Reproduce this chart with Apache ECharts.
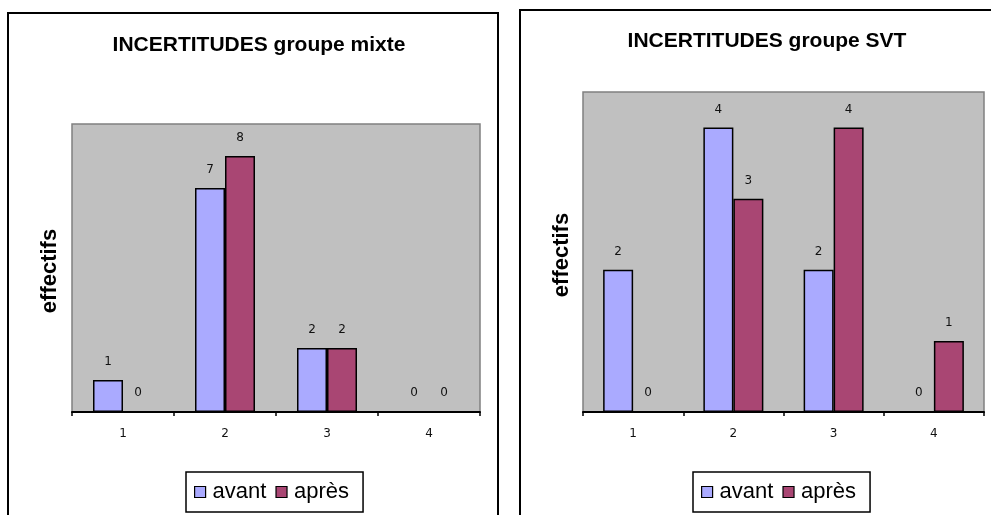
<!DOCTYPE html>
<html>
<head>
<meta charset="utf-8">
<script src="https://cdn.jsdelivr.net/npm/echarts@6/dist/echarts.min.js"></script>
<style>
html,body{margin:0;padding:0;background:#fff;}
#c{width:991px;height:515px;}
</style>
</head>
<body>
<div id="c"></div>
<script>
const categories = ['1', '2', '3', '4'];
const seriesNames = ['avant', 'après'];
const mixteAvant = [1, 7, 2, 0];
const mixteApres = [0, 8, 2, 0];
const svtAvant = [2, 4, 2, 0];
const svtApres = [0, 3, 4, 1];
const titles = ['INCERTITUDES groupe mixte', 'INCERTITUDES groupe SVT'];
const yTitle = 'effectifs';
const yMax = [9, 4.5];

const colors = ['#AAAAFF', '#A94673'];
const sans = '"Liberation Sans", Arial, sans-serif';
const small = '"DejaVu Sans", Verdana, sans-serif';

const chart = echarts.init(document.getElementById('c'));

function barSeries(name, data, idx, color) {
  return {
    type: 'bar', name: name, data: data,
    xAxisIndex: idx, yAxisIndex: idx,
    barWidth: 30, barGap: '0%',
    itemStyle: { color: color, borderColor: '#000', borderWidth: 1.5 },
    label: { show: true, position: 'top', distance: 12, fontFamily: small, fontSize: 12, color: '#111' },
    emphasis: { disabled: true },
    animation: false
  };
}

function xAx(idx) {
  return {
    type: 'category', gridIndex: idx, data: categories,
    axisLine: { lineStyle: { color: '#000', width: 2 } },
    axisTick: { show: true, length: 4, lineStyle: { color: '#000', width: 1.5 } },
    axisLabel: { fontFamily: small, fontSize: 12, color: '#111', margin: 16 }
  };
}
function yAx(idx) {
  return {
    type: 'value', gridIndex: idx, min: 0, max: yMax[idx],
    axisLine: { show: false }, axisTick: { show: false },
    axisLabel: { show: false }, splitLine: { show: false }
  };
}
function legend(left) {
  return {
    data: seriesNames, left: left, top: 472, orient: 'horizontal',
    backgroundColor: '#fff', borderColor: '#000', borderWidth: 1.5,
    padding: [9, 14, 9, 8], itemGap: 9, itemWidth: 11, itemHeight: 11,
    icon: 'rect',
    itemStyle: { borderColor: '#000', borderWidth: 1.2 },
    textStyle: { fontFamily: sans, fontSize: 22, color: '#000', padding: [0, 0, 0, 2] },
    selectedMode: false
  };
}

chart.setOption({
  animation: false,
  title: [
    { text: titles[0], left: 254, top: 30, textAlign: 'center',
      textStyle: { fontFamily: sans, fontSize: 21, fontWeight: 'bold', color: '#000' } },
    { text: titles[1], left: 762, top: 26, textAlign: 'center',
      textStyle: { fontFamily: sans, fontSize: 21, fontWeight: 'bold', color: '#000' } }
  ],
  grid: [
    { left: 72, top: 124, width: 408, bottom: 103, show: true, backgroundColor: '#C0C0C0', borderColor: '#808080', borderWidth: 1.5 },
    { left: 583, top: 92, width: 401, bottom: 103, show: true, backgroundColor: '#C0C0C0', borderColor: '#808080', borderWidth: 1.5 }
  ],
  xAxis: [xAx(0), xAx(1)],
  yAxis: [yAx(0), yAx(1)],
  legend: [legend(186), legend(693)],
  series: [
    barSeries(seriesNames[0], mixteAvant, 0, colors[0]),
    barSeries(seriesNames[1], mixteApres, 0, colors[1]),
    barSeries(seriesNames[0], svtAvant, 1, colors[0]),
    barSeries(seriesNames[1], svtApres, 1, colors[1])
  ],
  graphic: [
    { type: 'rect', shape: { x: 8, y: 13, width: 490, height: 530 }, style: { fill: 'none', stroke: '#000', lineWidth: 2 }, z: -10, silent: true },
    { type: 'rect', shape: { x: 520, y: 10, width: 500, height: 530 }, style: { fill: 'none', stroke: '#000', lineWidth: 2 }, z: -10, silent: true },
    { type: 'text', x: 50, y: 271, rotation: Math.PI / 2, style: { text: yTitle, font: 'bold 22px ' + sans, fill: '#000', textAlign: 'center', textVerticalAlign: 'middle' }, silent: true },
    { type: 'text', x: 562, y: 255, rotation: Math.PI / 2, style: { text: yTitle, font: 'bold 22px ' + sans, fill: '#000', textAlign: 'center', textVerticalAlign: 'middle' }, silent: true }
  ]
});
</script>
</body>
</html>
